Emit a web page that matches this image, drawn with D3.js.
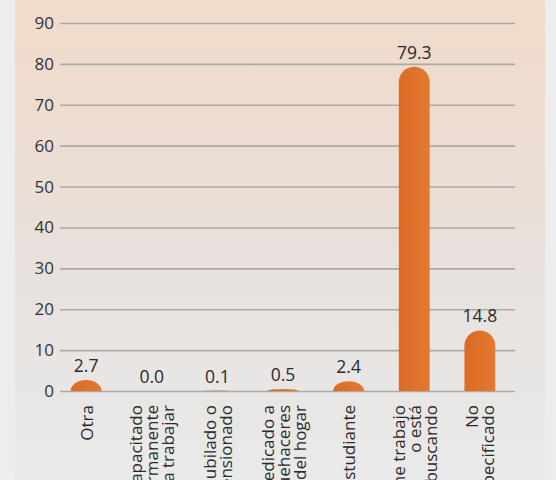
<!DOCTYPE html>
<html><head><meta charset="utf-8">
<script src="https://cdn.jsdelivr.net/npm/d3@7"></script>
<style>html,body{margin:0;padding:0;background:#ececec;}svg{display:block;}</style>
</head><body>
<svg id="c" width="556" height="480"></svg>
<script>
const categories = [
  ["Otra"],
  ["Incapacitado", "permanente", "para trabajar"],
  ["Jubilado o", "pensionado"],
  ["Dedicado a", "quehaceres", "del hogar"],
  ["Estudiante"],
  ["No tiene trabajo", "o está", "buscando"],
  ["No", "especificado"]
];
const values = [2.7, 0.0, 0.1, 0.5, 2.4, 79.3, 14.8];
const valueLabels = ["2.7", "0.0", "0.1", "0.5", "2.4", "79.3", "14.8"];
const yTicks = [0, 10, 20, 30, 40, 50, 60, 70, 80, 90];

const svg = d3.select("#c");
const defs = svg.append("defs");
const bg = defs.append("linearGradient").attr("id","bg").attr("x1",0).attr("y1",0).attr("x2",0).attr("y2",1);
bg.append("stop").attr("offset","0%").attr("stop-color","#f1dbcb");
bg.append("stop").attr("offset","25%").attr("stop-color","#eddcd0");
bg.append("stop").attr("offset","50%").attr("stop-color","#e8e0db");
bg.append("stop").attr("offset","75%").attr("stop-color","#e8e5e3");
bg.append("stop").attr("offset","100%").attr("stop-color","#eaeaea");
const bar = defs.append("linearGradient").attr("id","bar").attr("x1",0).attr("y1",0).attr("x2",1).attr("y2",0);
bar.append("stop").attr("offset","0%").attr("stop-color","#dc6a24");
bar.append("stop").attr("offset","100%").attr("stop-color","#e27a30");

svg.append("rect").attr("x",0).attr("y",0).attr("width",556).attr("height",480).attr("fill","#ededed");
svg.append("rect").attr("x",15).attr("y",0).attr("width",530).attr("height",480).attr("fill","url(#bg)");

const font = "'Open Sans', 'Noto Sans', sans-serif";
const x = d3.scaleBand().domain(d3.range(categories.length)).range([53, 513]).paddingInner(0.53).paddingOuter(0.27);
const y = d3.scaleLinear().domain([0, 90]).range([391, 23]);

const yAxis = d3.axisLeft(y).tickValues(yTicks).tickSize(-(515 - 60)).tickPadding(6);
const ga = svg.append("g").attr("transform","translate(60,0)").call(yAxis);
ga.select(".domain").remove();
ga.selectAll(".tick line").attr("stroke","#acaaa8").attr("stroke-width",1.6);
ga.selectAll(".tick text").attr("fill","#333").attr("font-family",font).attr("font-size",17);

function barPath(i){
  const x0 = x(i), w = x.bandwidth(), b = y(0), h = b - y(values[i]);
  const r = w/2;
  if (h <= 0.01) return "";
  if (h >= r) {
    return `M${x0},${b} L${x0},${b-h+r} A${r},${r} 0 0 1 ${x0+w},${b-h+r} L${x0+w},${b} Z`;
  }
  return `M${x0},${b} A${r},${h} 0 0 1 ${x0+w},${b} Z`;
}
svg.append("g").selectAll("path").data(values).join("path")
  .attr("d",(d,i)=>barPath(i)).attr("fill","url(#bar)");

svg.append("g").selectAll("text").data(valueLabels).join("text")
  .attr("x",(d,i)=>x(i)+x.bandwidth()/2)
  .attr("y",(d,i)=>y(values[i]) - 8)
  .attr("text-anchor","middle")
  .attr("font-family",font).attr("font-size",17.5).attr("fill","#2a2a2a")
  .text(d=>d);

const lineGap = 16;
const cg = svg.append("g");
categories.forEach((lines,i)=>{
  const cx = x(i)+x.bandwidth()/2;
  const n = lines.length;
  lines.forEach((t,j)=>{
    const off = (j - (n-1)/2) * lineGap;
    cg.append("text")
      .attr("transform",`translate(${cx+off},405) rotate(-90)`)
      .attr("text-anchor","end").attr("dominant-baseline","central")
      .attr("font-family",font).attr("font-size",17).attr("fill","#2a2a2a")
      .text(t);
  });
});
</script>
</body></html>
